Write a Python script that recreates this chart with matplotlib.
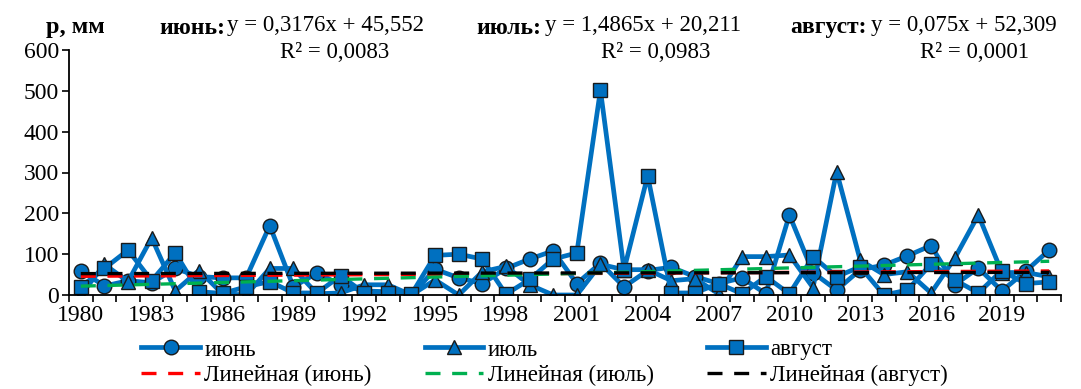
import numpy as np
import matplotlib
matplotlib.use('Agg')
import matplotlib.pyplot as plt
from matplotlib.ticker import MultipleLocator

plt.rcParams['font.family'] = 'Liberation Serif'
plt.rcParams['font.size'] = 17

# Data (precipitation, mm)
years = list(range(1980, 2022))
june = [60, 22, 35, 30, 65, 45, 42, 42, 170, 20,
        54, 25, 10, 8, 0, 63, 42, 28, 65, 88,
        108, 28, 78, 20, 60, 68, 45, 28, 42, 3,
        196, 55, 12, 62, 73, 96, 121, 25, 66, 10,
        58, 110]
july = [0, 75, 33, 140, 10, 60, 3, 0, 65, 65,
        3, 5, 25, 25, 0, 37, 0, 57, 70, 25,
        0, 0, 75, 62, 62, 35, 40, 3, 94, 94,
        98, 18, 302, 85, 50, 57, 5, 90, 196, 55,
        55, 45]
august = [20, 65, 110, 35, 103, 8, 4, 20, 33, 5,
          5, 47, 5, 5, 2, 97, 100, 88, 2, 38,
          88, 103, 502, 62, 292, 5, 5, 28, 3, 45,
          3, 94, 45, 69, 0, 12, 76, 37, 5, 60,
          28, 32]

# trendline coefficients (x = 1..42)
trend_june = (0.3176, 45.552)
trend_july = (1.4865, 20.211)
trend_aug = (0.075, 52.309)

W, H = 1081, 389
fig = plt.figure(figsize=(W / 100, H / 100), dpi=100)
ax = fig.add_axes([69 / W, 1 - 295 / H, (1061 - 69) / W, (295 - 50) / H])

blue = '#0070C0'
style = dict(color=blue, lw=3.4, markersize=10.5, markerfacecolor=blue,
             markeredgecolor='#1a1a1a', markeredgewidth=1.0)
l1, = ax.plot(years, june, marker='o', label='июнь', **style)
l2, = ax.plot(years, july, marker='^', label='июль', **style)
l3, = ax.plot(years, august, marker='s', label='август', **style)

x = np.array(years)
t = x - 1979
dash = dict(lw=2.4, dashes=(4.5, 3.5), zorder=5)
t1, = ax.plot(x, trend_june[0] * t + trend_june[1], color='#FF0000', label='Линейная (июнь)', **dash)
t2, = ax.plot(x, trend_july[0] * t + trend_july[1], color='#00B050', label='Линейная (июль)', **dash)
t3, = ax.plot(x, trend_aug[0] * t + trend_aug[1], color='black', label='Линейная (август)', **dash)

ax.set_xlim(1979.5, 2021.5)
ax.set_ylim(0, 600)
ax.yaxis.set_major_locator(MultipleLocator(100))
ax.set_xticks(range(1980, 2022, 3))
ax.set_xticks(np.arange(1979.5, 2022, 1), minor=True)
ax.tick_params(axis='x', which='major', length=0, pad=7, labelsize=17)
ax.tick_params(axis='x', which='minor', length=5, width=1.2, direction='out')
ax.tick_params(axis='y', length=5, width=1.2, direction='out', pad=2, labelsize=17)
for s in ['top', 'right']:
    ax.spines[s].set_visible(False)
for s in ['left', 'bottom']:
    ax.spines[s].set_linewidth(1.3)


def ftext(px, py, s, **kw):
    fig.text(px / W, 1 - py / H, s, va='center', **kw)


ftext(46, 28, 'р, мм', fontweight='bold', fontsize=17.5)
ftext(225, 28, 'июнь:', ha='right', fontweight='bold', fontsize=17)
ftext(227, 25, 'y = 0,3176x + 45,552', ha='left', fontsize=16.5)
ftext(335, 52, 'R² = 0,0083', ha='center', fontsize=16.5)
ftext(541, 28, 'июль:', ha='right', fontweight='bold', fontsize=17)
ftext(545, 25, 'y = 1,4865x + 20,211', ha='left', fontsize=16.5)
ftext(656, 52, 'R² = 0,0983', ha='center', fontsize=16.5)
ftext(867, 28, 'август:', ha='right', fontweight='bold', fontsize=17)
ftext(871, 25, 'y = 0,075x + 52,309', ha='left', fontsize=16.5)
ftext(975, 52, 'R² = 0,0001', ha='center', fontsize=16.5)

fig.legend(handles=[l1, t1, l2, t2, l3, t3], ncol=3, loc='upper left',
           bbox_to_anchor=(130 / W, 1 - 328 / H), frameon=False,
           handlelength=2.55, handletextpad=0.2, columnspacing=2.32,
           labelspacing=0.18, borderpad=0, fontsize=16.5, numpoints=1)

fig.savefig('out.png', dpi=100)
